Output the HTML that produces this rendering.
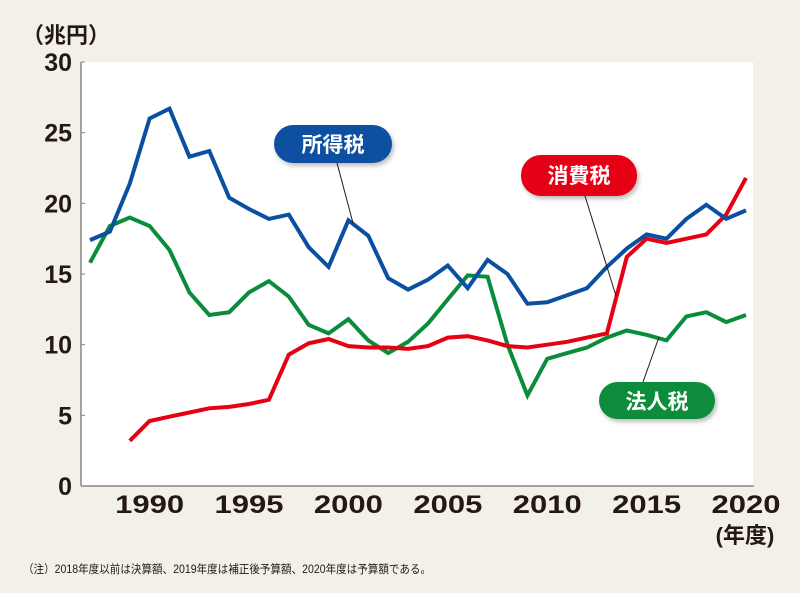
<!DOCTYPE html>
<html><head><meta charset="utf-8"><style>
body{margin:0;background:#f3f0e8;}
svg{display:block;font-family:"Liberation Sans","Noto Sans CJK JP",sans-serif;}
</style></head><body>
<svg id="chart" width="800" height="593" viewBox="0 0 800 593">
<defs><filter id="sh" x="-20%" y="-20%" width="140%" height="160%"><feDropShadow dx="2" dy="3" stdDeviation="2" flood-color="#000" flood-opacity="0.25"/></filter></defs>
<rect width="800" height="593" fill="#f3f0e8"/>
<rect x="81" y="62" width="672" height="424" fill="#fff"/>
<g id="axes"></g>
<g id="series"></g>
<text x="22" y="43" font-size="22" font-weight="bold" fill="#231815">（兆円）</text>
<text x="745" y="543" font-size="22" font-weight="bold" fill="#231815" text-anchor="middle">(年度)</text>
<g>
<line x1="337" y1="163" x2="353" y2="223" stroke="#231815" stroke-width="1"/>
<rect x="274" y="125" width="118" height="38" rx="19" fill="#0a4fa1" filter="url(#sh)"/>
<text x="333" y="152" font-size="21" font-weight="bold" fill="#fff" text-anchor="middle">所得税</text></g>
<g>
<line x1="585" y1="196" x2="616" y2="296" stroke="#231815" stroke-width="1"/>
<rect x="521" y="155" width="116" height="41" rx="20" fill="#e60012" filter="url(#sh)"/>
<text x="579" y="183" font-size="21" font-weight="bold" fill="#fff" text-anchor="middle">消費税</text></g>
<g>
<line x1="643" y1="382" x2="659" y2="337" stroke="#231815" stroke-width="1"/>
<rect x="599" y="382" width="116" height="37" rx="18.5" fill="#0a8d3a" filter="url(#sh)"/>
<text x="657" y="409" font-size="21" font-weight="bold" fill="#fff" text-anchor="middle">法人税</text></g>
<text x="23" y="573" font-size="11.5" fill="#231815" textLength="408" lengthAdjust="spacingAndGlyphs">（注）2018年度以前は決算額、2019年度は補正後予算額、2020年度は予算額である。</text>
</svg>
<script>
const years=[];for(let y=1987;y<=2020;y++)years.push(y);
const incomeTax=[17.4,18.0,21.4,26.0,26.7,23.3,23.7,20.4,19.6,18.9,19.2,16.9,15.5,18.8,17.7,14.7,13.9,14.6,15.6,14.0,16.0,15.0,12.9,13.0,13.5,14.0,15.5,16.8,17.8,17.5,18.9,19.9,18.9,19.5];
const corporateTax=[15.8,18.4,19.0,18.4,16.7,13.7,12.1,12.3,13.7,14.5,13.4,11.4,10.8,11.8,10.3,9.4,10.2,11.5,13.2,14.9,14.8,10.0,6.4,9.0,9.4,9.8,10.5,11.0,10.7,10.3,12.0,12.3,11.6,12.1];
const consumptionTax=[null,null,3.2,4.6,4.9,5.2,5.5,5.6,5.8,6.1,9.3,10.1,10.4,9.9,9.8,9.8,9.7,9.9,10.5,10.6,10.3,9.9,9.8,10.0,10.2,10.5,10.8,16.2,17.5,17.2,17.5,17.8,19.2,21.8];
const yTicks=[0,5,10,15,20,25,30];
const xTicks=[1990,1995,2000,2005,2010,2015,2020];
const NS="http://www.w3.org/2000/svg";
const x=yr=>90+(yr-1987)*19.88;
const y=v=>486-v*14.133;
const ax=document.getElementById('axes'),sr=document.getElementById('series');
function mk(tag,at,parent){const e=document.createElementNS(NS,tag);for(const k in at)e.setAttribute(k,at[k]);parent.appendChild(e);return e;}
const yl=mk('line',{x1:81,y1:62,x2:81,y2:486,stroke:'#8a8580','stroke-width':1.5},ax);


const xl=mk('line',{x1:81,y1:486,x2:754,y2:486,stroke:'#8a8580','stroke-width':1.5},ax);


yTicks.forEach(t=>{
 const tk=mk('line',{x1:81,y1:y(t),x2:85,y2:y(t),stroke:'#8a8580','stroke-width':1},ax);
 
 
 const tx=mk('text',{x:72,y:y(t)+9,'font-size':25,'font-weight':'bold',fill:'#231815','text-anchor':'end'},ax);
 tx.textContent=t;
 
 
});
xTicks.forEach(t=>{
 const tx=mk('text',{x:x(t),y:513,'font-size':25,'font-weight':'bold',fill:'#231815','text-anchor':'middle',textLength:69,lengthAdjust:'spacingAndGlyphs'},ax);
 tx.textContent=t;
 
 
});
function line(data,color,name){
 let d='';let started=false;
 data.forEach((v,i)=>{if(v==null)return;d+=(started?'L':'M')+x(years[i]).toFixed(1)+','+y(v).toFixed(1);started=true;});
 const p=mk('path',{d:d,fill:'none',stroke:color,'stroke-width':4,'stroke-linejoin':'miter','stroke-linecap':'butt'},sr);
 
 
}
line(corporateTax,'#0a8d3a','corporate-tax-line');
line(consumptionTax,'#e60012','consumption-tax-line');
line(incomeTax,'#0a4fa1','income-tax-line');
</script>
</body></html>
